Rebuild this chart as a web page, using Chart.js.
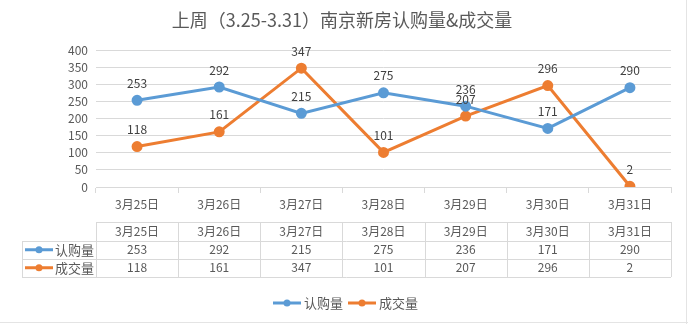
<!DOCTYPE html>
<html>
<head>
<meta charset="utf-8">
<script src="https://cdn.jsdelivr.net/npm/chart.js@4"></script>
<style>
  html, body { margin: 0; padding: 0; background: #fff; }
  #wrap { width: 688px; height: 324px; position: relative; }
</style>
</head>
<body>
<div id="wrap"><canvas id="salesChart" width="688" height="324"></canvas></div>
<script>
const FONT = '"Noto Sans CJK SC", "Microsoft YaHei", sans-serif';
const TITLE = "上周（3.25-3.31）南京新房认购量&成交量";

const days = ["3月25日", "3月26日", "3月27日", "3月28日", "3月29日", "3月30日", "3月31日"];
const subscribed = [253, 292, 215, 275, 236, 171, 290];
const closed = [118, 161, 347, 101, 207, 296, 2];
const yTicks = [0, 50, 100, 150, 200, 250, 300, 350, 400];

const BLUE = "#5b9bd5";
const ORANGE = "#ed7d31";
const GRID = "#d9d9d9";
const TEXT = "#595959";

// little line-with-dot marker used in the table and the legend
function drawKey(ctx, x, y, color) {
  ctx.save();
  ctx.strokeStyle = color;
  ctx.fillStyle = color;
  ctx.lineWidth = 3;
  ctx.beginPath();
  ctx.moveTo(x, y);
  ctx.lineTo(x + 28, y);
  ctx.stroke();
  ctx.beginPath();
  ctx.arc(x + 14, y, 3.5, 0, Math.PI * 2);
  ctx.fill();
  ctx.restore();
}

const extras = {
  id: "extras",
  beforeDraw(chart) {
    const ctx = chart.ctx;
    ctx.save();
    ctx.fillStyle = "#fff";
    ctx.fillRect(0, 0, chart.width, chart.height);
    ctx.restore();
  },
  afterDatasetsDraw(chart) {
    const ctx = chart.ctx;
    ctx.save();
    ctx.font = "12px " + FONT;
    ctx.fillStyle = "#404040";
    ctx.textAlign = "center";
    ctx.textBaseline = "middle";
    chart.data.datasets.forEach((ds, di) => {
      chart.getDatasetMeta(di).data.forEach((pt, i) => {
        ctx.fillText(String(ds.data[i]), pt.x, pt.y - 17);
      });
    });
    ctx.restore();
  },
  afterDraw(chart) {
    const ctx = chart.ctx;
    const x = chart.scales.x;
    const n = days.length;
    const left = x.getPixelForValue(-0.5);
    const right = x.getPixelForValue(n - 0.5);
    const rowHead = 22;
    const rows = [222, 241, 258.5, 277];

    ctx.save();
    // title
    ctx.fillStyle = TEXT;
    ctx.font = "18px " + FONT;
    ctx.textAlign = "center";
    ctx.textBaseline = "middle";
    ctx.fillText(TITLE, 342, 20);

    // data table grid
    ctx.strokeStyle = GRID;
    ctx.lineWidth = 1;
    ctx.beginPath();
    ctx.moveTo(left, rows[0] + 0.5); ctx.lineTo(right, rows[0] + 0.5);
    for (let r = 1; r < rows.length; r++) {
      ctx.moveTo(rowHead, Math.round(rows[r]) + 0.5);
      ctx.lineTo(right, Math.round(rows[r]) + 0.5);
    }
    for (let i = 0; i <= n; i++) {
      const px = Math.round(x.getPixelForValue(i - 0.5)) + 0.5;
      ctx.moveTo(px, rows[0]); ctx.lineTo(px, rows[3]);
    }
    ctx.moveTo(rowHead + 0.5, rows[1]); ctx.lineTo(rowHead + 0.5, rows[3]);
    ctx.stroke();

    // table cells
    ctx.font = "12px " + FONT;
    ctx.fillStyle = TEXT;
    const series = [subscribed, closed];
    days.forEach((d, i) => {
      const cx = x.getPixelForValue(i);
      ctx.fillText(d, cx, (rows[0] + rows[1]) / 2);
      series.forEach((s, k) => {
        ctx.fillText(String(s[i]), cx, (rows[k + 1] + rows[k + 2]) / 2);
      });
    });

    // row headers
    ctx.textAlign = "left";
    ctx.font = "13px " + FONT;
    chart.data.datasets.forEach((ds, k) => {
      const cy = (rows[k + 1] + rows[k + 2]) / 2;
      drawKey(ctx, 25, cy, ds.borderColor);
      ctx.fillStyle = TEXT;
      ctx.fillText(ds.label, 55, cy);
    });

    // legend
    let lx = 273;
    chart.data.datasets.forEach(ds => {
      drawKey(ctx, lx, 303, ds.borderColor);
      ctx.fillStyle = TEXT;
      ctx.fillText(ds.label, lx + 31, 303);
      lx += 31 + ctx.measureText(ds.label).width + 5;
    });

    // frame edges
    ctx.strokeStyle = "#e4e4e4";
    ctx.beginPath();
    ctx.moveTo(686.5, 0); ctx.lineTo(686.5, 324);
    ctx.moveTo(0, 322.5); ctx.lineTo(688, 322.5);
    ctx.stroke();
    ctx.restore();
  }
};

new Chart(document.getElementById("salesChart"), {
  type: "line",
  data: {
    labels: days,
    datasets: [
      {
        label: "认购量",
        data: subscribed,
        borderColor: BLUE,
        backgroundColor: BLUE,
        borderWidth: 3,
        pointRadius: 4,
        pointHoverRadius: 4,
        tension: 0
      },
      {
        label: "成交量",
        data: closed,
        borderColor: ORANGE,
        backgroundColor: ORANGE,
        borderWidth: 3,
        pointRadius: 4,
        pointHoverRadius: 4,
        tension: 0
      }
    ]
  },
  options: {
    responsive: false,
    animation: false,
    layout: { padding: { top: 50, right: 17, bottom: 0, left: 0 } },
    plugins: {
      legend: { display: false },
      title: { display: false },
      tooltip: { enabled: false }
    },
    scales: {
      x: {
        offset: true,
        afterFit(scale) { scale.height = 137; },
        grid: {
          offset: true,
          drawOnChartArea: false,
          drawTicks: true,
          tickLength: 6,
          color: GRID
        },
        border: { color: GRID },
        ticks: {
          padding: 4,
          color: TEXT,
          font: { family: FONT, size: 12 },
          maxRotation: 0
        }
      },
      y: {
        min: 0,
        max: 400,
        afterFit(scale) { scale.width = 96; },
        afterBuildTicks(scale) { scale.ticks = yTicks.map(v => ({ value: v })); },
        grid: { color: GRID, drawTicks: false },
        border: { display: false },
        ticks: {
          autoSkip: false,
          padding: 8,
          color: TEXT,
          font: { family: FONT, size: 12 }
        }
      }
    }
  },
  plugins: [extras]
});
</script>
</body>
</html>
